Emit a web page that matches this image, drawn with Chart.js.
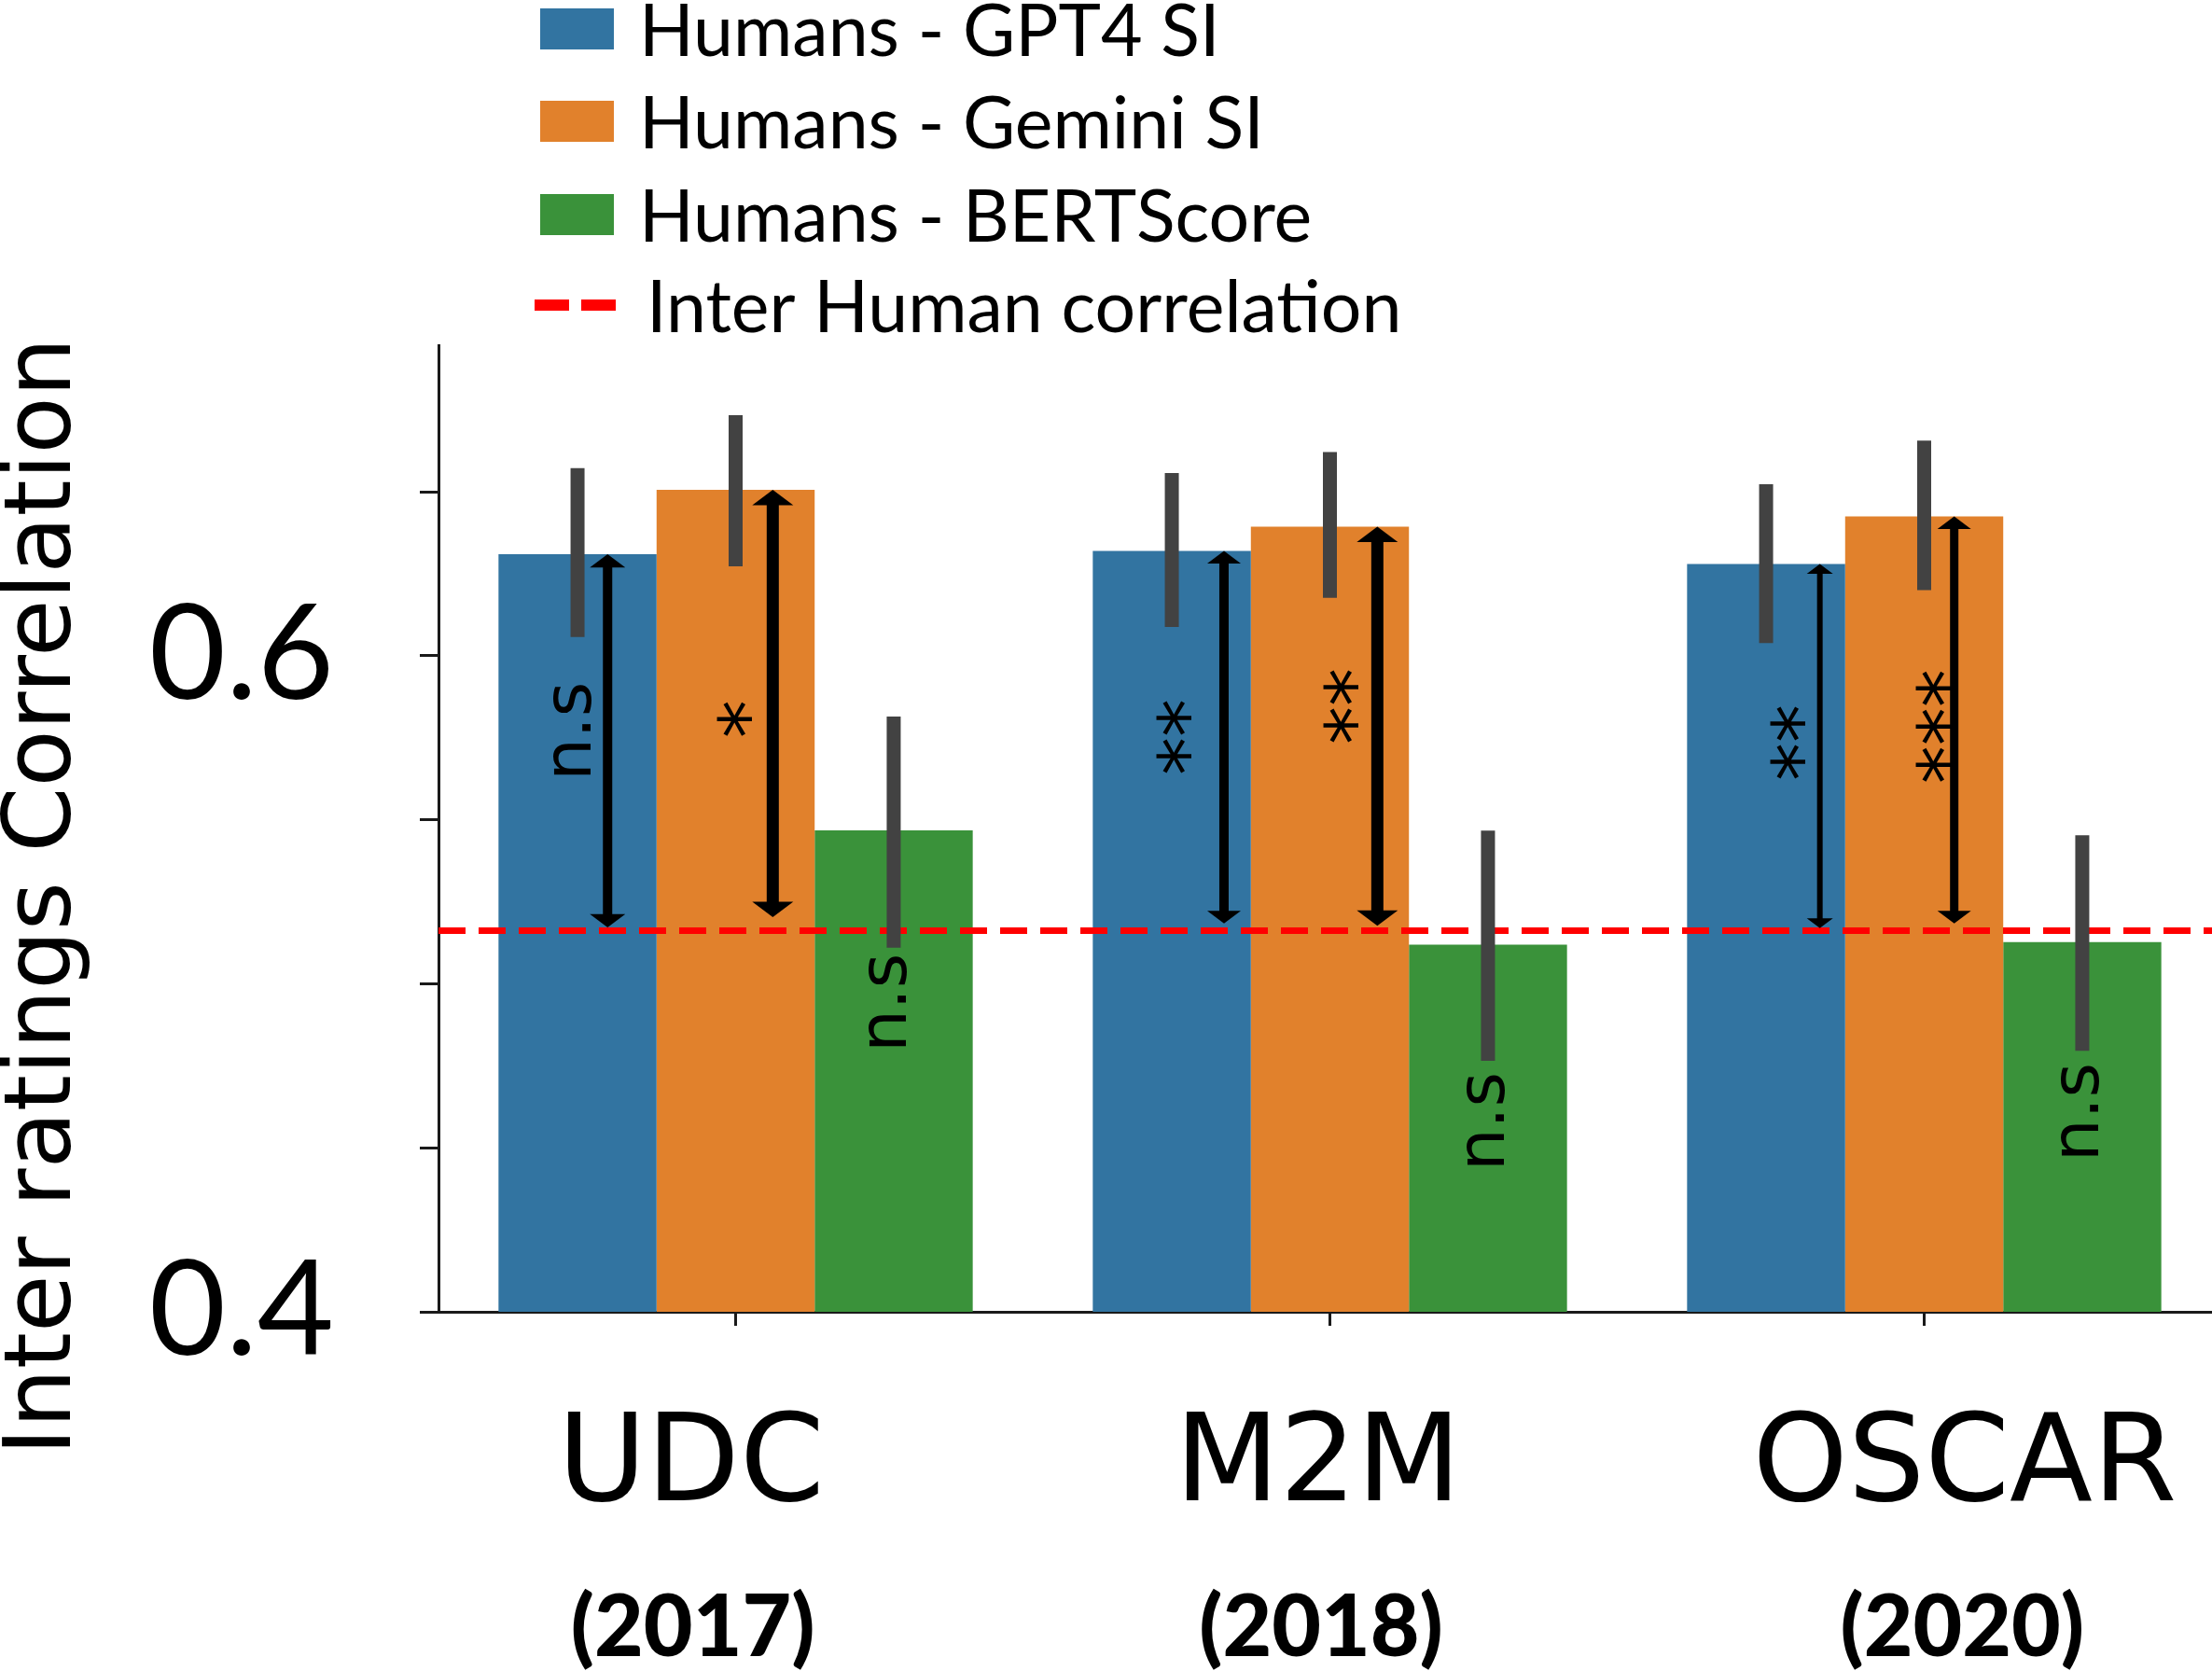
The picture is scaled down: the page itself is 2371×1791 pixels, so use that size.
<!DOCTYPE html>
<html><head><meta charset="utf-8">
<script src="https://cdn.jsdelivr.net/npm/chart.js@4.4.0/dist/chart.umd.min.js"></script>
<style>html,body{margin:0;padding:0;background:#fff;overflow:hidden;}canvas{display:block;}</style>
</head><body>
<canvas id="c" width="2381" height="1791" style="width:2381px;height:1791px"></canvas>
<script>
// ---------- data ----------
const categories = ['UDC', 'M2M', 'OSCAR'];
const years = ['(2017)', '(2018)', '(2020)'];
const seriesLabels = ['Humans - GPT4 SI', 'Humans - Gemini SI', 'Humans - BERTScore'];
const gpt4Values   = [0.631, 0.632, 0.628];
const geminiValues = [0.6506, 0.6394, 0.6425];
const bertValues   = [0.5468, 0.5119, 0.5127];
const gpt4ErrLow    = [0.6057, 0.6088, 0.6039];
const gpt4ErrHigh   = [0.6572, 0.6557, 0.6523];
const geminiErrLow  = [0.6273, 0.6177, 0.6200];
const geminiErrHigh = [0.6734, 0.6621, 0.6656];
const bertErrLow    = [0.5110, 0.4765, 0.4796];
const bertErrHigh   = [0.5815, 0.5467, 0.5453];
const interHuman = 0.5162;
const lineLabel = 'Inter Human correlation';
const yTickValues = [0.4, 0.45, 0.5, 0.55, 0.6, 0.65];
const yTickLabels = ['0.4', '', '', '', '0.6', ''];
const yMin = 0.4, yMax = 0.6947;
const yTitle = 'Inter ratings Correlation';
const gpt4Sig   = ['n.s', '**', '**'];
const geminiSig = ['*', '**', '***'];
const bertSig   = ['n.s', 'n.s', 'n.s'];
const gpt4SigAt   = [0.5770, 0.5752, 0.5735];
const geminiSigAt = [0.5807, 0.5846, 0.5784];
const bertSigAt   = [0.4942, 0.4580, 0.4609];
const gpt4ArrowLow   = [0.5172, 0.5184, 0.5170];
const geminiArrowLow = [0.5203, 0.5177, 0.5184];

// ---------- style / placement ----------
const nameLabelAt = [-0.075, 0.980, 2.068];   // category-index units (labels set slightly apart in the original)
const yearLabelAt = [-0.072, 0.985, 2.064];
const barColors = ['#3274A1', '#E1812C', '#3A923A'];
const errColor = '#424242';
const axisColor = '#1a1a1a';
const arrowOffset = [[0.19, 0.235], [0.33, 0.30], [0.34, 0.19]];
const arrowWidth  = [[10, 13], [10, 13], [6, 9]];
const arrowHead   = [[19, 22], [18, 22], [14, 18]];
const sigOffset = [[-0.03, -0.006, -0.035], [0.012, 0.07, -0.012], [0.14, 0.06, -0.012]];

const overlay = {
  id: 'overlay',
  afterDatasetsDraw(chart) {
    const {ctx, chartArea, scales: {y}} = chart;
    ctx.save();
    ctx.strokeStyle = '#ff0000';
    ctx.lineWidth = 7;
    ctx.setLineDash([29, 14]);
    const ly = y.getPixelForValue(interHuman);
    ctx.beginPath(); ctx.moveTo(chartArea.left, ly); ctx.lineTo(chartArea.right, ly); ctx.stroke();
    ctx.restore();
    chart.data.datasets.forEach((ds, di) => {
      chart.getDatasetMeta(di).data.forEach((bar, i) => {
        ctx.save();
        ctx.strokeStyle = errColor; ctx.lineWidth = 15; ctx.lineCap = 'butt';
        ctx.beginPath();
        ctx.moveTo(bar.x, y.getPixelForValue(ds.errLow[i]));
        ctx.lineTo(bar.x, y.getPixelForValue(ds.errHigh[i]));
        ctx.stroke();
        ctx.restore();
      });
    });
    chart.data.datasets.forEach((ds, di) => {
      if (!ds.arrowLow) return;
      chart.getDatasetMeta(di).data.forEach((bar, i) => {
        const x = bar.x + arrowOffset[i][di] * bar.width;
        const yt = y.getPixelForValue(ds.data[i]);
        const yb = y.getPixelForValue(ds.arrowLow[i]);
        const hw = arrowHead[i][di], hl = hw * 0.75;
        ctx.save();
        ctx.strokeStyle = '#000'; ctx.fillStyle = '#000';
        ctx.lineWidth = arrowWidth[i][di];
        ctx.beginPath(); ctx.moveTo(x, yt + hl - 1); ctx.lineTo(x, yb - hl + 1); ctx.stroke();
        ctx.beginPath(); ctx.moveTo(x, yt); ctx.lineTo(x - hw, yt + hl); ctx.lineTo(x + hw, yt + hl); ctx.closePath(); ctx.fill();
        ctx.beginPath(); ctx.moveTo(x, yb); ctx.lineTo(x - hw, yb - hl); ctx.lineTo(x + hw, yb - hl); ctx.closePath(); ctx.fill();
        ctx.restore();
      });
    });
    chart.data.datasets.forEach((ds, di) => {
      chart.getDatasetMeta(di).data.forEach((bar, i) => {
        const txt = ds.sig[i];
        const star = txt.indexOf('*') >= 0;
        const size = star ? 82 : 72;
        const k = star ? 0.52 : 0.27;
        const cx = bar.x + sigOffset[i][di] * bar.width;
        const cy = y.getPixelForValue(ds.sigAt[i]);
        ctx.save();
        ctx.translate(cx, cy);
        ctx.rotate(-Math.PI / 2);
        ctx.font = size + 'px "DejaVu Sans"';
        ctx.fillStyle = '#000';
        ctx.textAlign = 'center';
        ctx.textBaseline = 'alphabetic';
        ctx.fillText(txt, 0, k * size);
        ctx.restore();
      });
    });
  },
  afterDraw(chart) {
    const {ctx} = chart;
    ctx.save();
    ctx.translate(75, 961);
    ctx.rotate(-Math.PI / 2);
    ctx.font = '100px "DejaVu Sans"';
    ctx.fillStyle = '#000';
    ctx.textAlign = 'center';
    ctx.textBaseline = 'alphabetic';
    ctx.fillText(yTitle, 0, 0);
    ctx.restore();
    const rows = [31, 130, 230, 327];
    ctx.save();
    ctx.font = '77px Lato';
    ctx.textBaseline = 'alphabetic';
    chart.data.datasets.forEach((ds, di) => {
      ctx.fillStyle = ds.backgroundColor;
      ctx.fillRect(579, rows[di] - 22, 79, 44);
      ctx.fillStyle = '#000';
      ctx.fillText(ds.label, 685, rows[di] + 29);
    });
    ctx.strokeStyle = '#ff0000';
    ctx.lineWidth = 12;
    ctx.setLineDash([37, 13]);
    ctx.beginPath(); ctx.moveTo(573, rows[3]); ctx.lineTo(662, rows[3]); ctx.stroke();
    ctx.setLineDash([]);
    ctx.fillStyle = '#000';
    ctx.fillText(lineLabel, 693, rows[3] + 29);
    ctx.restore();
  }
};

const datasetsCfg = [
  {label: seriesLabels[0], data: gpt4Values, errLow: gpt4ErrLow, errHigh: gpt4ErrHigh, sig: gpt4Sig, sigAt: gpt4SigAt, arrowLow: gpt4ArrowLow},
  {label: seriesLabels[1], data: geminiValues, errLow: geminiErrLow, errHigh: geminiErrHigh, sig: geminiSig, sigAt: geminiSigAt, arrowLow: geminiArrowLow},
  {label: seriesLabels[2], data: bertValues, errLow: bertErrLow, errHigh: bertErrHigh, sig: bertSig, sigAt: bertSigAt}
].map((d, i) => Object.assign(d, {backgroundColor: barColors[i], borderWidth: 0, xAxisID: 'x', yAxisID: 'y', categoryPercentage: 0.798, barPercentage: 1.0}));

const labelAxis = (positions, texts, font, padding, height) => ({
  type: 'linear', position: 'bottom', axis: 'x', min: -0.5, max: 2.5, offset: false,
  afterBuildTicks: s => { s.ticks = positions.map(v => ({value: v})); },
  grid: {display: false, drawTicks: false, offset: false}, border: {display: false},
  ticks: {callback: (v, i) => texts[i], autoSkip: false, font: font, color: '#000', padding: padding, maxRotation: 0, minRotation: 0},
  afterFit: s => { s.height = height; s.paddingLeft = 0; s.paddingRight = 0; }
});

new Chart(document.getElementById('c'), {
  type: 'bar',
  data: {labels: categories, datasets: datasetsCfg},
  options: {
    responsive: false,
    animation: false,
    devicePixelRatio: 1,
    layout: {padding: {top: 370, left: 0, right: 0, bottom: 0}},
    plugins: {legend: {display: false}, tooltip: {enabled: false}},
    scales: {
      x: {
        position: 'bottom', offset: true,
        grid: {display: true, drawOnChartArea: false, offset: false, tickLength: 15, tickColor: axisColor, tickWidth: 3},
        border: {display: true, color: axisColor, width: 3},
        ticks: {display: false},
        afterFit: s => { s.height = 15; s.paddingLeft = 0; s.paddingRight = 0; }
      },
      xl: labelAxis(nameLabelAt, categories, {family: 'DejaVu Sans', size: 130}, 75, 225),
      xy: labelAxis(yearLabelAt, years, {family: 'Lato', size: 91, weight: '900'}, 45, 145),
      y: {
        min: yMin, max: yMax,
        afterBuildTicks: s => { s.ticks = yTickValues.map(v => ({value: v})); },
        ticks: {callback: (v, i) => yTickLabels[i], font: {family: 'Lato', size: 142}, color: '#000', padding: 92},
        grid: {display: true, drawOnChartArea: false, tickLength: 20, tickColor: axisColor, tickWidth: 3},
        border: {display: true, color: axisColor, width: 3},
        afterFit: s => { s.width = 470; }
      }
    }
  },
  plugins: [overlay]
});
</script>
</body></html>
